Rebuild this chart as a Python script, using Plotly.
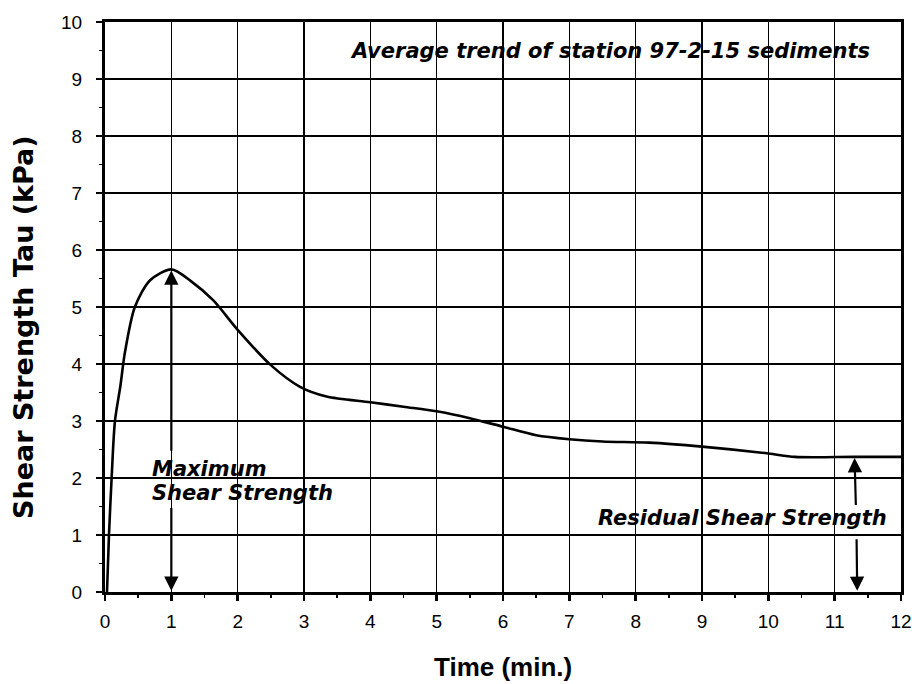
import plotly.graph_objects as go

time_min = [0.03, 0.06, 0.10, 0.15, 0.23, 0.30, 0.45, 0.68, 1.00, 1.30, 1.63, 2.00,
            2.50, 2.94, 3.34, 4.00, 4.50, 5.00, 5.50, 6.00, 6.50, 7.00, 7.50, 8.20,
            9.00, 10.00, 10.40, 11.30, 12.00]
tau_kpa = [0.00, 1.00, 2.00, 3.00, 3.60, 4.20, 5.00, 5.47, 5.66, 5.45, 5.12, 4.60,
           3.98, 3.60, 3.43, 3.33, 3.25, 3.17, 3.05, 2.90, 2.75, 2.68, 2.64, 2.62,
           2.55, 2.43, 2.37, 2.37, 2.37]

x_ticks = list(range(0, 13))
y_ticks = list(range(0, 11))

FONT = "Liberation Sans, Arial, sans-serif"
WIDE = "DejaVu Sans, Liberation Sans, sans-serif"

fig = go.Figure()
fig.add_trace(go.Scatter(x=time_min, y=tau_kpa, mode="lines",
                         line=dict(color="black", width=2.6, shape="spline", smoothing=0.8),
                         showlegend=False, hoverinfo="skip"))

def ann_font(size):
    return dict(family=WIDE, size=size, color="black", weight="bold", style="italic")

fig.add_annotation(x=3.66, y=9.50, xref="x", yref="y", xanchor="left", yanchor="middle",
                   text="Average trend of station 97-2-15 sediments",
                   showarrow=False, font=ann_font(21))
fig.add_annotation(x=0.68, y=2.15, xref="x", yref="y", xanchor="left", yanchor="middle",
                   text="Maximum", showarrow=False, font=ann_font(21))
fig.add_annotation(x=0.68, y=1.74, xref="x", yref="y", xanchor="left", yanchor="middle",
                   text="Shear Strength", showarrow=False, font=ann_font(21))
fig.add_annotation(x=11.82, y=1.30, xref="x", yref="y", xanchor="right", yanchor="middle",
                   text="Residual Shear Strength", showarrow=False, font=ann_font(21))

arrow_style = dict(xref="x", yref="y", axref="x", ayref="y", text="", showarrow=True,
                   arrowhead=2, arrowsize=1.3, arrowwidth=2.2, arrowcolor="black")
# maximum arrows
fig.add_annotation(x=1.0, y=5.64, ax=1.0, ay=2.45, **arrow_style)
fig.add_annotation(x=1.0, y=0.02, ax=1.0, ay=1.5, **arrow_style)
# residual arrows
fig.add_annotation(x=11.30, y=2.35, ax=11.32, ay=1.50, **arrow_style)
fig.add_annotation(x=11.34, y=0.02, ax=11.33, ay=0.95, **arrow_style)

# axis titles
fig.add_annotation(x=0.5, y=0, xref="paper", yref="paper", xanchor="center", yanchor="middle",
                   yshift=-75, text="Time (min.)", showarrow=False,
                   font=dict(family=FONT, size=26, color="black", weight="bold"))
fig.add_annotation(x=0, y=0.5, xref="paper", yref="paper", xanchor="center", yanchor="middle",
                   xshift=-82, yshift=-20, textangle=-90, text="Shear Strength Tau (kPa)",
                   showarrow=False,
                   font=dict(family=WIDE, size=27, color="black", weight="bold"))

axis_common = dict(showgrid=True, gridcolor="black", gridwidth=1.2,
                   showline=True, linecolor="black", linewidth=3, mirror=True,
                   ticks="outside", ticklen=6, tickwidth=2.5, tickcolor="black",
                   zeroline=False, automargin=False,
                   tickfont=dict(family=FONT, size=19, color="black"),
                   minor=dict(ticks="outside", ticklen=3, tickwidth=1.5, tickcolor="black",
                              dtick=0.5, showgrid=False))

fig.update_xaxes(range=[0, 12], tickvals=x_ticks, ticktext=[str(v) for v in x_ticks],
                 ticklabelstandoff=4, **axis_common)
fig.update_yaxes(range=[0, 10], tickvals=y_ticks, ticktext=[str(v) for v in y_ticks],
                 ticklabelstandoff=10, **axis_common)

fig.update_layout(width=912, height=684, margin=dict(l=105, r=11, t=22, b=92),
                  plot_bgcolor="white", paper_bgcolor="white", hovermode=False,
                  font=dict(family=FONT, color="black"))

fig.write_html("out.html", config={"displayModeBar": False, "staticPlot": True},
               post_script="document.body.style.margin='0';")
